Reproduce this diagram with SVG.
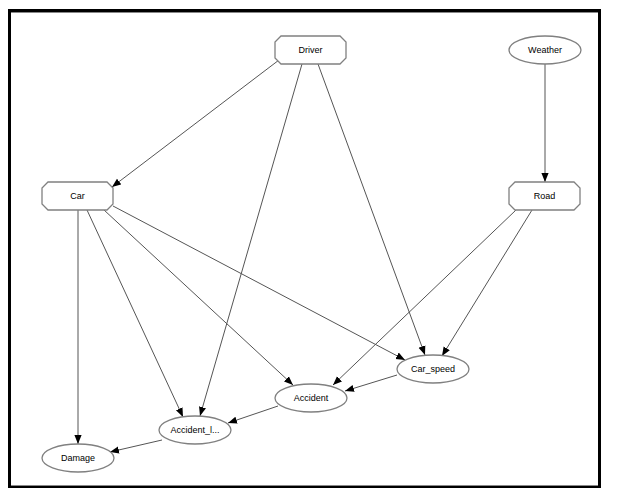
<svg xmlns="http://www.w3.org/2000/svg" width="624" height="495" viewBox="0 0 624 495">
<style>
.n{fill:#fff;stroke:#808080;stroke-width:1.3}
.t{font-family:"Liberation Sans",Arial,sans-serif;font-size:9px;fill:#000;text-anchor:middle}
.e{stroke:#555;stroke-width:1;fill:none;marker-end:url(#a)}
</style>
<defs>
<marker id="a" viewBox="0 0 10 10" refX="10" refY="5" markerWidth="9" markerHeight="9" markerUnits="userSpaceOnUse" orient="auto">
<path d="M0,1 L10,5 L0,9 z" fill="#000"/>
</marker>
</defs>
<rect x="0" y="0" width="624" height="495" fill="#fff"/>
<rect x="9.5" y="10.5" width="590" height="476" fill="none" stroke="#000" stroke-width="3"/>
<line x1="11" y1="12.5" x2="598" y2="12.5" stroke="#888" stroke-width="1"/>
<line x1="11" y1="485.5" x2="598" y2="485.5" stroke="#888" stroke-width="1"/>
<g id="edges">
<line class="e" x1="279" y1="60" x2="112" y2="187"/>
<line class="e" x1="302" y1="64" x2="200" y2="416"/>
<line class="e" x1="318" y1="64" x2="425" y2="355"/>
<line class="e" x1="545" y1="64" x2="545" y2="182"/>
<line class="e" x1="78" y1="210" x2="78" y2="444"/>
<line class="e" x1="87" y1="210" x2="183" y2="417"/>
<line class="e" x1="104" y1="210" x2="293" y2="385"/>
<line class="e" x1="113" y1="206" x2="405" y2="360"/>
<line class="e" x1="516" y1="210" x2="333" y2="385"/>
<line class="e" x1="532" y1="210" x2="442" y2="356"/>
<line class="e" x1="397" y1="375" x2="345" y2="391"/>
<line class="e" x1="278" y1="406" x2="228" y2="423"/>
<line class="e" x1="162" y1="440" x2="110" y2="452"/>
</g>
<g id="Driver">
<path class="n" d="M281,36 H340 L346,42 V58 L340,64 H281 L275,58 V42 Z"/>
<text class="t" x="310.5" y="53">Driver</text>
</g>
<g id="Weather">
<ellipse class="n" cx="545" cy="50" rx="36" ry="14"/>
<text class="t" x="545" y="53">Weather</text>
</g>
<g id="Car">
<path class="n" d="M48,182 H107 L113,188 V204 L107,210 H48 L42,204 V188 Z"/>
<text class="t" x="77.5" y="199">Car</text>
</g>
<g id="Road">
<path class="n" d="M515,182 H574 L580,188 V204 L574,210 H515 L509,204 V188 Z"/>
<text class="t" x="544.5" y="199">Road</text>
</g>
<g id="Car_speed">
<ellipse class="n" cx="433" cy="369" rx="36" ry="14"/>
<text class="t" x="433" y="372">Car_speed</text>
</g>
<g id="Accident">
<ellipse class="n" cx="311" cy="398" rx="36" ry="14"/>
<text class="t" x="311" y="401">Accident</text>
</g>
<g id="Accident_l">
<ellipse class="n" cx="195" cy="430" rx="36" ry="14"/>
<text class="t" x="195" y="433">Accident_l...</text>
</g>
<g id="Damage">
<ellipse class="n" cx="78" cy="458" rx="36" ry="14"/>
<text class="t" x="78" y="461">Damage</text>
</g>
</svg>
